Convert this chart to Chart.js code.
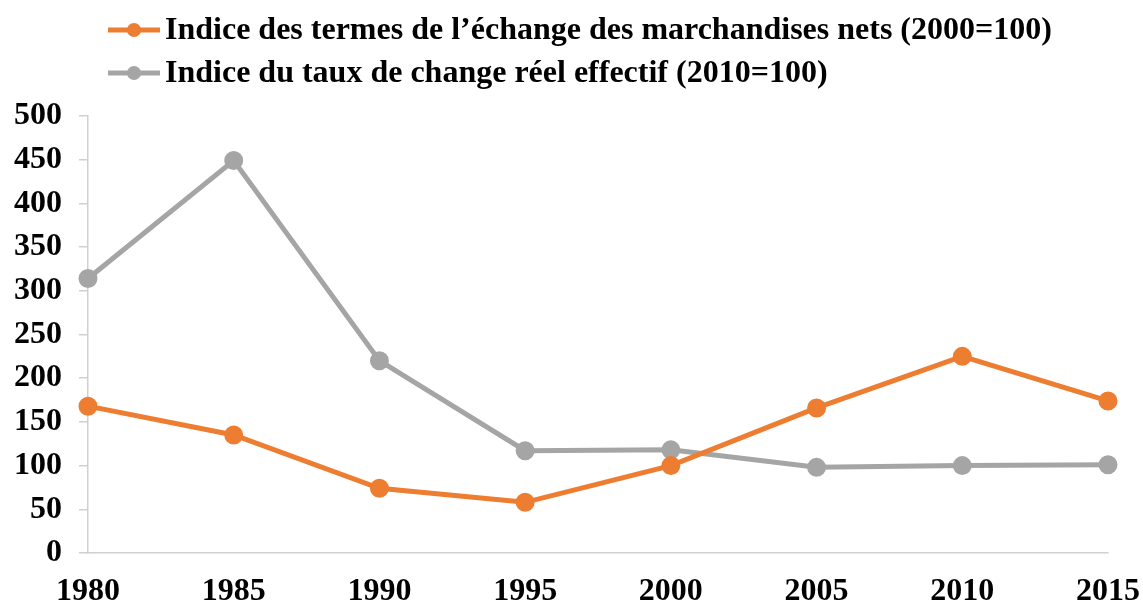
<!DOCTYPE html>
<html>
<head>
<meta charset="utf-8">
<script src="https://cdn.jsdelivr.net/npm/chart.js@4.4.1/dist/chart.umd.min.js"></script>
<style>
  html, body { margin: 0; padding: 0; background: #fff; }
  .chart-container { position: relative; width: 1143px; height: 603px; }
</style>
</head>
<body>
<div class="chart-container">
  <canvas id="chart"></canvas>
</div>
<script>
// Data
const years = ['1980', '1985', '1990', '1995', '2000', '2005', '2010', '2015'];
const termsOfTrade = [168, 135, 74, 58, 100, 166, 225, 174];
const realExchangeRate = [314, 449, 220, 117, 118, 98, 100, 101];
const seriesLabels = [
  'Indice des termes de l\u2019échange des marchandises nets (2000=100)',
  'Indice du taux de change réel effectif (2010=100)'
];
const yTicks = [0, 50, 100, 150, 200, 250, 300, 350, 400, 450, 500];

const ORANGE = '#ED7D31';
const GREY = '#A5A5A5';
const AXIS = '#D0D0D0';
const FONT = '"Liberation Serif", "Times New Roman", serif';

// legend drawn by hand so both rows line up on the left like the original
const leftLegend = {
  id: 'leftLegend',
  afterDraw(chart) {
    const ctx = chart.ctx;
    const rows = [30, 73];
    ctx.save();
    chart.data.datasets.forEach((ds, i) => {
      const y = rows[i];
      ctx.strokeStyle = ds.borderColor;
      ctx.lineWidth = 5;
      ctx.beginPath();
      ctx.moveTo(108, y);
      ctx.lineTo(160, y);
      ctx.stroke();
      ctx.fillStyle = ds.borderColor;
      ctx.beginPath();
      ctx.arc(134, y, 7, 0, Math.PI * 2);
      ctx.fill();
      ctx.fillStyle = '#000';
      ctx.font = 'bold 32px ' + FONT;
      ctx.textBaseline = 'middle';
      ctx.textAlign = 'left';
      ctx.fillText(ds.label, 165, y + 1);
    });
    ctx.restore();
  }
};

const ctx = document.getElementById('chart').getContext('2d');

new Chart(ctx, {
  type: 'line',
  data: {
    labels: years,
    datasets: [
      {
        label: seriesLabels[0],
        data: termsOfTrade,
        borderColor: ORANGE,
        backgroundColor: ORANGE,
        borderWidth: 5,
        pointRadius: 7,
        pointHoverRadius: 7,
        tension: 0,
      },
      {
        label: seriesLabels[1],
        data: realExchangeRate,
        borderColor: GREY,
        backgroundColor: GREY,
        borderWidth: 5,
        pointRadius: 7,
        pointHoverRadius: 7,
        tension: 0,
      },
    ],
  },
  options: {
    responsive: true,
    maintainAspectRatio: false,
    animation: false,
    layout: { padding: { top: 116, right: 35, left: 0, bottom: 0 } },
    plugins: {
      legend: { display: false },
      tooltip: { enabled: false },
    },
    scales: {
      x: {
        offset: false,
        grid: { display: false, drawOnChartArea: false, drawTicks: true, tickLength: 9, color: AXIS, lineWidth: 1.5 },
        border: { color: AXIS, width: 1.5 },
        ticks: {
          color: '#000',
          font: { family: FONT, size: 32, weight: 'bold', lineHeight: 1 },
          padding: 14,
          maxRotation: 0,
          autoSkip: false,
        },
        afterFit(axis) {
          axis.height = 50;
          axis.paddingLeft = 0;
          axis.paddingRight = 0;
        },
      },
      y: {
        min: 0,
        max: 500,
        afterBuildTicks(axis) { axis.ticks = yTicks.map(v => ({ value: v })); },
        grid: { drawOnChartArea: false, drawTicks: true, tickLength: 9, color: AXIS, lineWidth: 1.5 },
        border: { color: AXIS, width: 1.5 },
        ticks: {
          color: '#000',
          font: { family: FONT, size: 32, weight: 'bold' },
          padding: 17,
        },
        afterFit(axis) {
          axis.width = 88;
          axis.paddingTop = 0;
          axis.paddingBottom = 0;
        },
      },
    },
  },
  plugins: [leftLegend],
});
</script>
</body>
</html>
